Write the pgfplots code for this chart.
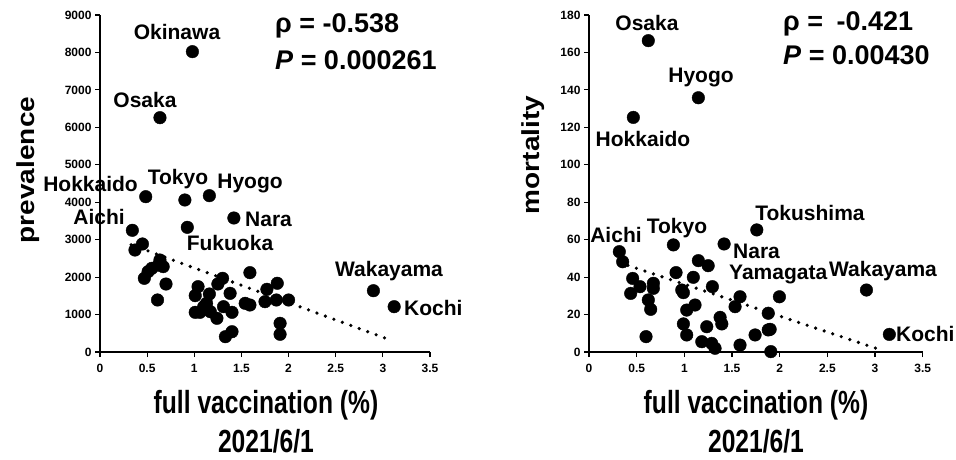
\documentclass[border=0pt]{standalone}
\usepackage{pgfplots}
\pgfplotsset{compat=1.18}
\usepackage{fontspec}
\setmainfont{Liberation Sans}
\begin{document}
\begin{tikzpicture}
\useasboundingbox (0pt,0pt) rectangle (956pt,459pt);
\pgfplotsset{
  myax/.style={
    scale only axis, axis lines=left, axis line style={line width=1.4pt,-},
    xmin=0, xmax=3.5, ymin=0, xtick={0,0.5,1,1.5,2,2.5,3,3.5},
    tick style={line width=1.1pt,black}, major tick length=5pt, tick align=outside,
    ticklabel style={font=\fontsize{12}{12}\selectfont\bfseries},
    xticklabel style={yshift=-4pt},
    /pgf/number format/assume math mode=true,
    /pgf/number format/1000 sep={},
    scaled ticks=false, clip=false,
  },
  pdots/.style={only marks, mark=*, mark size=6.3pt, mark options={fill=black,draw=black}},
  ptrend/.style={black, line width=3.6pt, line cap=round, dash pattern=on 0pt off 9pt},
}
\begin{axis}[myax, at={(100pt,107pt)}, anchor=south west, width=330pt, height=337pt,
  ymax=9000, ytick={0,1000,...,9000}]
\addplot[ptrend] coordinates {(0.33,2865) (3.08,320)};
\addplot[pdots] coordinates {
(0.98,8021) (0.636,6258) (0.485,4148) (0.90,4060) (1.16,4175) (1.42,3579)
(0.926,3330) (0.343,3250) (0.45,2885) (0.371,2724)
(0.55,2235) (0.62,2323) (0.67,2280) (0.636,2457) (0.51,2146)
(0.47,1968) (0.70,1816) (0.61,1389)
(1.59,2119) (1.30,1968) (1.25,1816) (1.04,1745) (1.38,1567) (1.16,1549) (1.01,1505)
(1.77,1674) (1.88,1835) (1.87,1389) (2.00,1389) (1.75,1344)
(1.54,1300) (1.59,1255) (1.13,1300) (1.10,1210) (1.31,1210)
(1.40,1060) (1.01,1060) (1.06,1060) (1.17,1077) (1.24,900)
(1.91,766) (1.91,473) (1.33,409) (1.40,542)
(2.90,1637) (3.12,1210)
};
\end{axis}
\begin{axis}[myax, at={(589pt,107pt)}, anchor=south west, width=333.7pt, height=337pt,
  ymax=180, ytick={0,20,...,180}]
\addplot[ptrend] coordinates {(0.318,47.8) (3.08,0.8)};
\addplot[pdots] coordinates {
(0.622,166.3) (1.147,135.8) (0.465,125.3)
(1.76,65.2) (0.885,57.2) (1.417,57.7) (0.318,53.6)
(0.353,48.2) (1.147,48.8) (1.25,46.1)
(0.458,39.3) (0.535,34.9) (0.437,31.3)
(0.675,36.7) (0.675,34.0) (0.913,42.4) (1.094,39.9)
(0.973,33.1) (0.99,31.7) (1.294,34.9)
(0.622,27.8) (0.647,22.8) (1.112,25.1) (1.025,22.4)
(1.584,29.5) (1.532,24.2) (1.997,29.5) (1.88,20.7)
(1.375,18.5) (1.393,15.0) (1.235,13.5) (0.99,15.0) (1.025,9.1)
(1.88,11.8) (1.90,12.1) (1.742,9.1) (0.598,8.2) (1.183,5.5)
(1.287,4.6) (1.322,2.0) (1.584,3.7) (1.907,0.2)
(2.91,33.1) (3.15,9.4)
};
\end{axis}
% point labels
\begin{scope}[every node/.style={font=\fontsize{21}{21}\selectfont\bfseries, inner sep=0pt}]
\node at (177pt,427pt) {Okinawa};
\node at (145pt,359pt) {Osaka};
\node[anchor=east] at (138pt,275pt) {Hokkaido};
\node at (178pt,280pt) {Tokyo};
\node at (250pt,276pt) {Hyogo};
\node[anchor=west] at (245pt,240pt) {Nara};
\node at (230pt,216pt) {Fukuoka};
\node[anchor=east] at (125pt,242pt) {Aichi};
\node at (389pt,188pt) {Wakayama};
\node[anchor=west] at (404pt,151pt) {Kochi};
\node at (647pt,436pt) {Osaka};
\node at (701pt,381pt) {Hyogo};
\node at (643pt,320pt) {Hokkaido};
\node at (616pt,224pt) {Aichi};
\node at (677pt,231pt) {Tokyo};
\node at (810pt,246pt) {Tokushima};
\node[anchor=west] at (733pt,208pt) {Nara};
\node[anchor=west] at (729pt,185pt) {Yamagata};
\node at (883pt,188pt) {Wakayama};
\node[anchor=west] at (896pt,125pt) {Kochi};
\end{scope}
\begin{scope}[every node/.style={font=\fontsize{27}{27}\selectfont\bfseries, inner sep=0pt, anchor=west}]
\node at (275pt,433pt) {ρ = -0.538};
\node at (275pt,399pt) {\textit{P} = 0.000261};
\node at (783pt,435pt) {ρ =\hspace{0.5em}-0.421};
\node at (783pt,404pt) {\textit{P} = 0.00430};
\end{scope}
\begin{scope}[every node/.style={font=\fontsize{32}{32}\selectfont\bfseries, inner sep=0pt}]
\node at (266pt,54pt) {\scalebox{0.77}[1]{full vaccination (\%)}};
\node at (266pt,18pt) {\scalebox{0.77}[1]{2021/6/1}};
\node at (756pt,54pt) {\scalebox{0.77}[1]{full vaccination (\%)}};
\node at (756pt,18pt) {\scalebox{0.77}[1]{2021/6/1}};
\end{scope}
\begin{scope}[every node/.style={font=\fontsize{28}{28}\selectfont\bfseries, inner sep=0pt}]
\node[rotate=90] at (28pt,289pt) {\scalebox{1}[0.88]{prevalence}};
\node[rotate=90] at (533pt,304pt) {\scalebox{1}[0.88]{mortality}};
\end{scope}
\end{tikzpicture}
\end{document}
